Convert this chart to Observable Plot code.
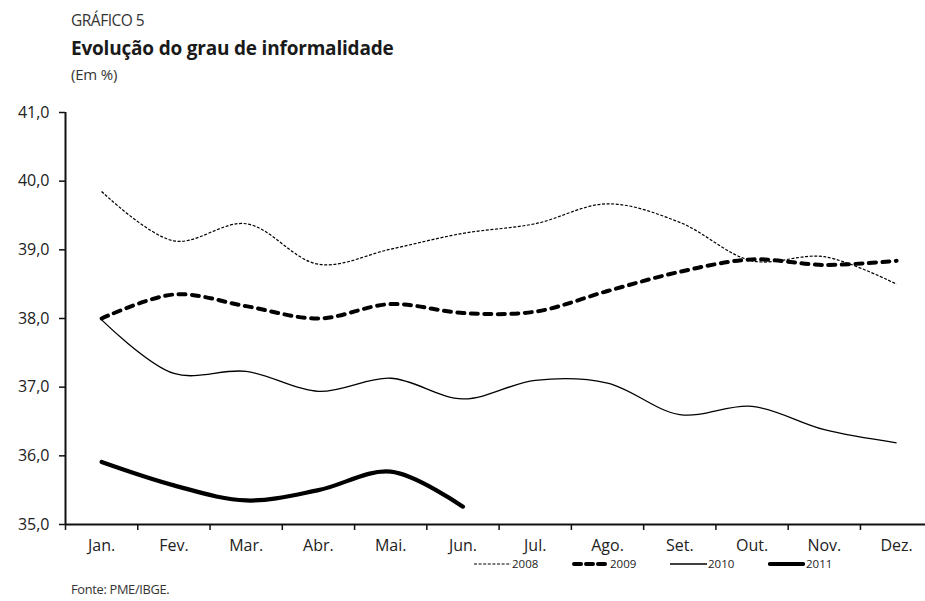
<!DOCTYPE html>
<html>
<head>
<meta charset="utf-8">
<script src="https://cdn.jsdelivr.net/npm/d3@7"></script>
<script src="https://cdn.jsdelivr.net/npm/@observablehq/plot@0.6"></script>
<style>
  html, body { margin: 0; padding: 0; background: #fff; }
  body { width: 925px; height: 601px; position: relative; overflow: hidden; font-family: "Open Sans", sans-serif; color: #222; }
  .abs { position: absolute; white-space: nowrap; line-height: 1.2; }
  #kicker { left: 71px; top: 11px; font-size: 15.5px; font-weight: 400; color: #333; letter-spacing: -0.5px; }
  #title { left: 71px; top: 37px; font-size: 19px; font-weight: 700; color: #1a1a1a; letter-spacing: -0.2px; }
  #unit { left: 71px; top: 65px; font-size: 15px; color: #333; letter-spacing: -0.2px; }
  #chart { left: 0; top: 100px; }
  #legend { left: 474px; top: 557px; display: flex; font-size: 11.5px; color: #222; }
  #legend .item { display: flex; align-items: center; width: 98px; }
  #legend svg { display: block; margin-right: 1px; }
  #source { left: 71px; top: 582px; font-size: 12.8px; color: #333; letter-spacing: -0.3px; }
</style>
</head>
<body>
<div id="kicker" class="abs">GRÁFICO 5</div>
<div id="title" class="abs">Evolução do grau de informalidade</div>
<div id="unit" class="abs">(Em %)</div>
<div id="chart" class="abs"></div>
<div id="legend" class="abs"></div>
<div id="source" class="abs">Fonte: PME/IBGE.</div>
<script>
// Months shown on the x axis
const months = ["Jan.", "Fev.", "Mar.", "Abr.", "Mai.", "Jun.", "Jul.", "Ago.", "Set.", "Out.", "Nov.", "Dez."];

// Degree of informality (%), by month, per year
const s2008 = [39.85, 39.13, 39.38, 38.79, 39.01, 39.24, 39.38, 39.67, 39.40, 38.84, 38.90, 38.50];
const s2009 = [38.00, 38.35, 38.18, 38.00, 38.21, 38.08, 38.10, 38.40, 38.68, 38.86, 38.78, 38.84];
const s2010 = [37.98, 37.20, 37.23, 36.94, 37.13, 36.83, 37.10, 37.06, 36.60, 36.72, 36.38, 36.19];
const s2011 = [35.91, 35.57, 35.35, 35.50, 35.77, 35.26];

// y axis ticks
const yTicks = [35, 36, 37, 38, 39, 40, 41];

// line styles per year (also used by the legend)
const years = ["2008", "2009", "2010", "2011"];
const seriesData = [s2008, s2009, s2010, s2011];
const styles = [
  {strokeWidth: 1.2, strokeDasharray: "3,1.6", strokeLinecap: "butt"},
  {strokeWidth: 4, strokeDasharray: "7,6.5", strokeLinecap: "round"},
  {strokeWidth: 1.3, strokeDasharray: null, strokeLinecap: "butt"},
  {strokeWidth: 4.2, strokeDasharray: null, strokeLinecap: "round"}
];

const fmt = d => d.toFixed(1).replace(".", ",");
const monthIdx = months.map((m, i) => i);
const boundaries = months.map((m, i) => i - 0.5);

const chart = Plot.plot({
  width: 925,
  height: 462,
  marginLeft: 65,
  marginRight: 0,
  marginTop: 12,
  marginBottom: 38,
  style: {fontFamily: "'Open Sans', sans-serif", color: "#222", background: "white"},
  x: {type: "linear", domain: [-0.5, 11.4], axis: null},
  y: {domain: [35, 41], axis: null},
  marks: [
    // y axis: ticks and labels
    Plot.axisY({ticks: yTicks, tickSize: 6, tickPadding: 10, tickFormat: fmt, fontSize: 16, stroke: "#111", strokeWidth: 1.5}),
    // x axis: ticks between months
    Plot.axisX({ticks: boundaries, tickSize: 6, tickFormat: () => "", stroke: "#111", strokeWidth: 1.5}),
    // month labels
    Plot.axisX({ticks: monthIdx, tickSize: 0, tickPadding: 15, tickFormat: i => months[i], fontSize: 16}),
    // axis lines
    Plot.ruleY([35], {stroke: "#111", strokeWidth: 2}),
    Plot.ruleX([-0.5], {stroke: "#111", strokeWidth: 2}),
    // series
    ...seriesData.map((s, k) => Plot.line(s, {
      x: (d, i) => i,
      y: d => d,
      curve: "catmull-rom",
      stroke: "#000",
      strokeWidth: styles[k].strokeWidth,
      strokeDasharray: styles[k].strokeDasharray,
      strokeLinecap: styles[k].strokeLinecap,
      strokeLinejoin: "round"
    }))
  ]
});
document.getElementById("chart").appendChild(chart);

// legend with line swatches
const legend = document.getElementById("legend");
years.forEach((y, k) => {
  const item = document.createElement("div");
  item.className = "item";
  const st = styles[k];
  const dash = st.strokeDasharray ? ` stroke-dasharray="${k === 1 ? "7,5" : st.strokeDasharray}"` : "";
  item.innerHTML = `<svg width="37" height="12"><line x1="${st.strokeLinecap === "round" ? 2 : 0}" x2="${st.strokeLinecap === "round" ? 35 : 37}" y1="6" y2="6" stroke="#000" stroke-width="${st.strokeWidth}" stroke-linecap="${st.strokeLinecap}"${dash}/></svg><span>${y}</span>`;
  legend.appendChild(item);
});
</script>
</body>
</html>
